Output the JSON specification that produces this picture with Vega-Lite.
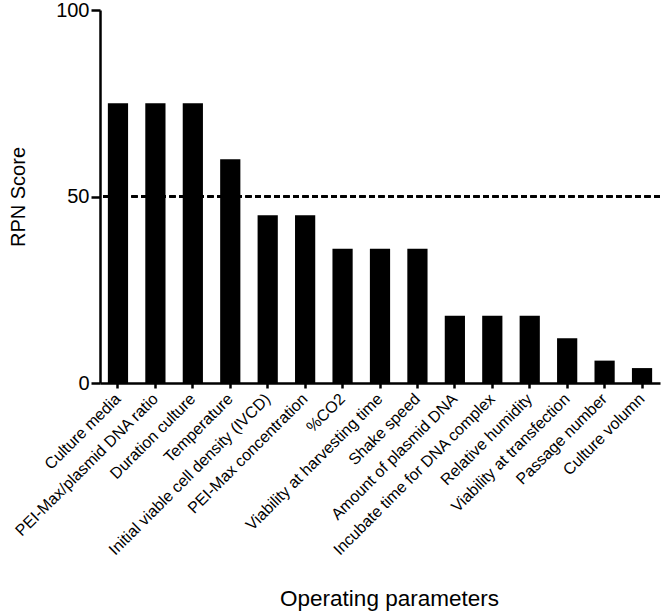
{
  "$schema": "https://vega.github.io/schema/vega-lite/v6.json",
  "width": 560,
  "height": 373,
  "autosize": {"type": "none"},
  "padding": {"left": 100, "top": 10, "right": 6, "bottom": 231},
  "background": "white",
  "config": {
    "font": "Liberation Sans",
    "view": {"stroke": null},
    "axis": {"grid": false, "domainColor": "black", "tickColor": "black", "labelColor": "black", "titleColor": "black", "titleFontWeight": "normal"}
  },
  "data": {
    "values": [
      {"parameter": "Culture media", "rpn": 75},
      {"parameter": "PEI-Max/plasmid DNA ratio", "rpn": 75},
      {"parameter": "Duration culture", "rpn": 75},
      {"parameter": "Temperature", "rpn": 60},
      {"parameter": "Initial viable cell density (IVCD)", "rpn": 45},
      {"parameter": "PEI-Max concentration", "rpn": 45},
      {"parameter": "%CO2", "rpn": 36},
      {"parameter": "Viability at harvesting time", "rpn": 36},
      {"parameter": "Shake speed", "rpn": 36},
      {"parameter": "Amount of plasmid DNA", "rpn": 18},
      {"parameter": "Incubate time for DNA complex", "rpn": 18},
      {"parameter": "Relative humidity", "rpn": 18},
      {"parameter": "Viability at transfection", "rpn": 12},
      {"parameter": "Passage number", "rpn": 6},
      {"parameter": "Culture volumn", "rpn": 4}
    ]
  },
  "layer": [
    {
      "mark": {"type": "bar", "color": "black"},
      "encoding": {
        "x": {
          "field": "parameter", "type": "nominal", "sort": null,
          "scale": {"paddingInner": 0.46, "paddingOuter": 0.21},
          "axis": {
            "title": "Operating parameters", "titleFontSize": 22.5,
            "titleX": 289, "titleY": 204, "titleAlign": "center", "titleBaseline": "top",
            "labelAngle": -45, "labelAlign": "right", "labelBaseline": "middle",
            "labelFontSize": 16, "labelPadding": 8, "labelLimit": 400,
            "domainWidth": 2.5, "tickWidth": 2.5, "tickSize": 5
          }
        },
        "y": {
          "field": "rpn", "type": "quantitative",
          "scale": {"domain": [0, 100], "nice": false},
          "axis": {
            "title": "RPN Score", "titleFontSize": 20,
            "titleX": -76, "titleY": 186.5, "titleAlign": "center", "titleBaseline": "alphabetic", "titleAngle": -90,
            "values": [0, 50, 100], "labelFontSize": 20, "labelPadding": 2,
            "domainWidth": 2.5, "tickWidth": 2.5, "tickSize": 9
          }
        }
      }
    },
    {
      "mark": {"type": "rule", "color": "black", "strokeDash": [6, 3.5], "strokeWidth": 1.5},
      "encoding": {"y": {"datum": 50}}
    }
  ]
}
